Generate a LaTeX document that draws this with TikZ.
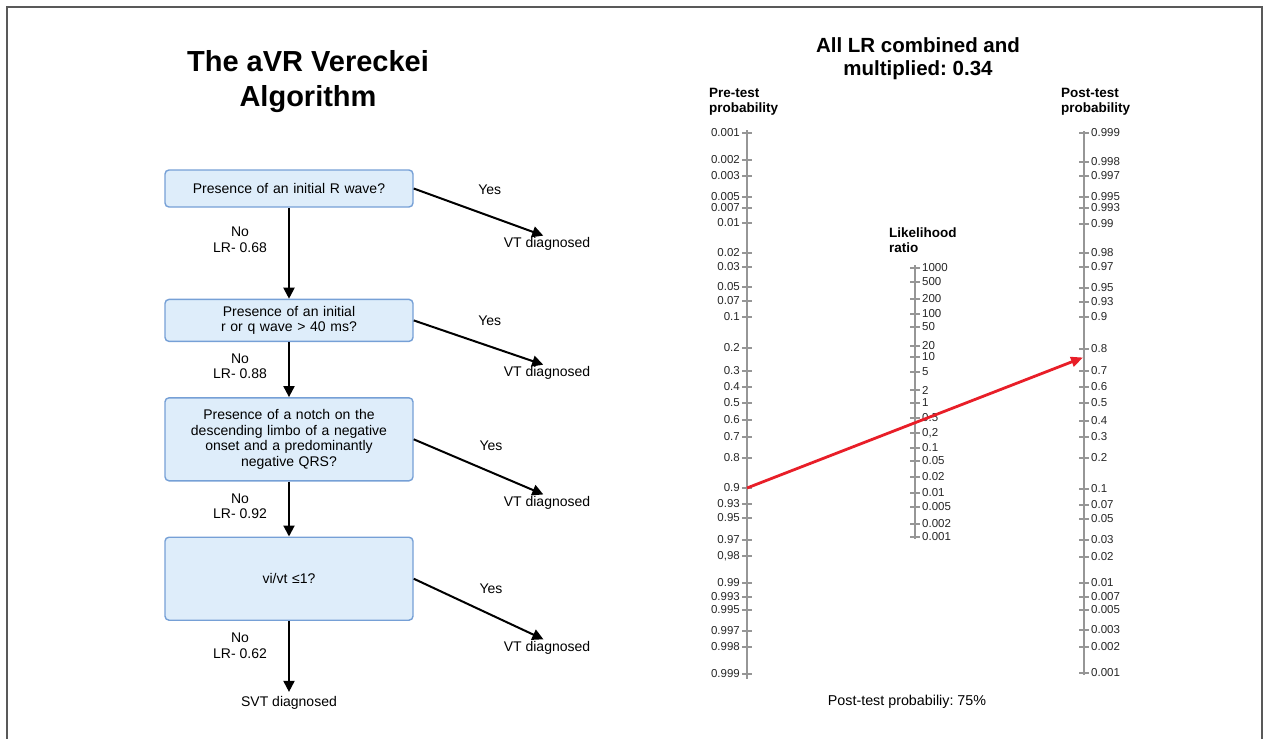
\documentclass[tikz,border=0pt]{standalone}
\usepackage{fontspec}
\setmainfont{Liberation Sans}
\frenchspacing
\usetikzlibrary{positioning,arrows.meta}
\definecolor{boxfill}{RGB}{222,237,250}
\definecolor{boxline}{RGB}{118,160,214}
\definecolor{scalegray}{RGB}{150,150,150}
\definecolor{linered}{RGB}{232,30,40}
\tikzset{
    qbox/.style={draw=boxline, fill=boxfill, line width=1.4pt, rounded corners=4pt,
        text width=230pt, inner xsep=9pt, inner ysep=3pt, align=center,
        font=\fontsize{14}{15.7}\selectfont},
    lbl/.style={inner sep=0pt, align=center, font=\fontsize{14}{15.7}\selectfont},
    flow/.style={->, line width=2pt},
    tick lbl/.style={inner sep=0pt, text=black!85, font=\fontsize{11.5}{13}\selectfont},
    hdr/.style={inner sep=0pt, align=left, font=\bfseries\fontsize{13.5}{15}\selectfont},
    scale axis/.style={draw=scalegray, line width=1.6pt},
    scale tick/.style={draw=scalegray, line width=1.1pt}
}

\begin{document}
\begin{tikzpicture}[x=1pt, y=-1pt, >={Triangle[length=11pt,width=11pt]}]
    \useasboundingbox (0,0) rectangle (1267,739);
    \draw[black!65, line width=1.5pt] (7,745) -- (7,7) -- (1262,7) -- (1262,745);

    % flowchart
    \node[inner sep=0pt, align=center, anchor=north, font=\bfseries\fontsize{29}{35}\selectfont] (title) at (308,50) {The aVR Vereckei\\Algorithm};

    \node[qbox, minimum height=37pt] (b1) at (289,188.5) {Presence of an initial R wave?};
    \node[qbox, minimum height=42pt, below=91pt of b1] (b2) {Presence of an initial\\r or q wave > 40 ms?};
    \node[qbox, minimum height=83pt, below=55pt of b2] (b3) {Presence of a notch on the\\descending limbo of a negative\\onset and a predominantly\\negative QRS?};
    \node[qbox, minimum height=83pt, below=55pt of b3] (b4) {vi/vt ≤1?};

    \node[lbl, anchor=north] (vt1) at (547,237) {VT diagnosed};
    \node[lbl, anchor=north] (vt2) at (547,366) {VT diagnosed};
    \node[lbl, anchor=north] (vt3) at (547,496) {VT diagnosed};
    \node[lbl, anchor=north] (vt4) at (547,641) {VT diagnosed};
    \node[lbl, below=75pt of b4] (svt) {SVT diagnosed};

    \draw[flow] (b1) -- node[lbl, pos=0.35, xshift=-49pt] {No\\LR- 0.68} (b2);
    \draw[flow] (b2) -- node[lbl, pos=0.44, xshift=-49pt] {No\\LR- 0.88} (b3);
    \draw[flow] (b3) -- node[lbl, pos=0.45, xshift=-49pt] {No\\LR- 0.92} (b4);
    \draw[flow, shorten >=4pt] (b4) -- node[lbl, pos=0.33, xshift=-49pt] {No\\LR- 0.62} (svt);

    \draw[flow, shorten >=4pt] (b1.east) -- node[lbl, pos=0.57, yshift=26pt] {Yes} (vt1.north);
    \draw[flow, shorten >=4pt] (b2.east) -- node[lbl, pos=0.57, yshift=26pt] {Yes} (vt2.north);
    \draw[flow, shorten >=4pt] (b3.east) -- node[lbl, pos=0.58, yshift=26pt] {Yes} (vt3.north);
    \draw[flow, shorten >=4pt] (b4.east) -- node[lbl, pos=0.58, yshift=26pt] {Yes} (vt4.north);

    % nomogram
    \node[inner sep=0pt, align=center, anchor=north, font=\bfseries\fontsize{20.5}{23}\selectfont] (combo) at (918,37.5) {All LR combined and\\multiplied: 0.34};
    \node[hdr, anchor=north west] (pre) at (709,88.5) {Pre-test\\probability};
    \node[hdr, anchor=north west] (post) at (1061,88.5) {Post-test\\probability};
    \node[hdr, anchor=north west] (lr) at (889,227.5) {Likelihood\\ratio};

    \draw[scale axis] (747,130) -- (747,679);
    \foreach \v/\y in {0.001/133, 0.002/160, 0.003/176, 0.005/197, 0.007/208, 0.01/223,
        0.02/253, 0.03/267, 0.05/287, 0.07/301, 0.1/317, 0.2/348, 0.3/371, 0.4/387,
        0.5/403, 0.6/420, 0.7/437, 0.8/458, 0.9/488, 0.93/504, 0.95/518, 0.97/540,
        {0,98}/556, 0.99/583, 0.993/597, 0.995/610, 0.997/631, 0.998/647, 0.999/674} {
        \draw[scale tick] (742,\y) -- (752,\y);
        \node[tick lbl, anchor=east] (pre-\y) at (740,\y) {\v};
    }

    \draw[scale axis] (915,265) -- (915,539);
    \foreach \v/\y in {1000/268, 500/282, 200/299, 100/314, 50/327, 20/346, 10/357,
        5/372, 2/390, 1/403, 0.5/418, {0,2}/433, 0.1/448, 0.05/461, 0.02/477,
        0.01/493, 0.005/507, 0.002/524, 0.001/537} {
        \draw[scale tick] (910,\y) -- (920,\y);
        \node[tick lbl, anchor=west] (lr-\y) at (922,\y) {\v};
    }

    \draw[scale axis] (1084,131) -- (1084,675);
    \foreach \v/\y in {0.999/133, 0.998/162, 0.997/176, 0.995/197, 0.993/208, 0.99/224,
        0.98/253, 0.97/267, 0.95/288, 0.93/302, 0.9/317, 0.8/349, 0.7/371, 0.6/387,
        0.5/403, 0.4/421, 0.3/437, 0.2/458, 0.1/489, 0.07/505, 0.05/519, 0.03/540,
        0.02/557, 0.01/583, 0.007/597, 0.005/610, 0.003/630, 0.002/647, 0.001/673} {
        \draw[scale tick] (1079,\y) -- (1089,\y);
        \node[tick lbl, anchor=west] (post-\y) at (1091,\y) {\v};
    }

    \coordinate (pre9) at (747,488);
    \coordinate (post8) at (1083,357.5);
    \draw[->, linered, line width=2.8pt, >={Triangle[length=12pt,width=10pt]}] (pre9) -- (post8);

    \node[lbl, anchor=base, font=\fontsize{14.3}{16}\selectfont] (result) at (907,705) {Post-test probabiliy: 75\%};
\end{tikzpicture}
\end{document}
